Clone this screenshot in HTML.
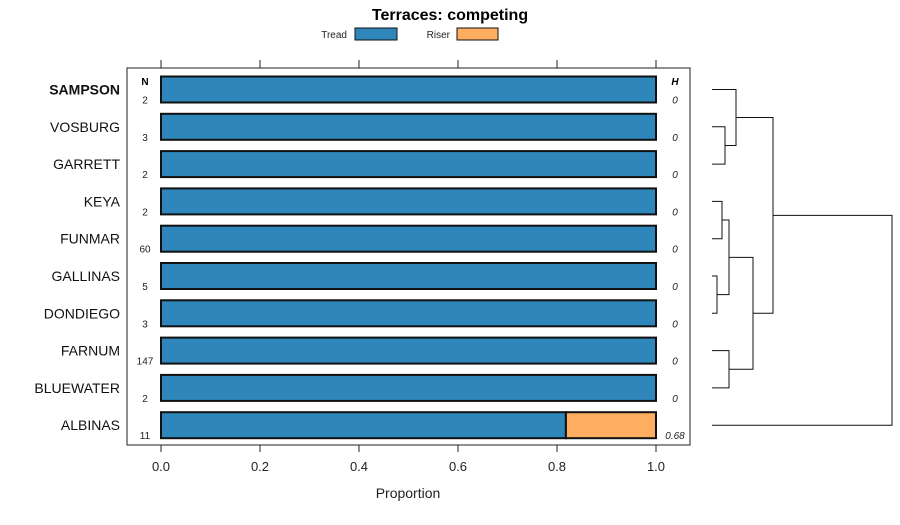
<!DOCTYPE html>
<html><head><meta charset="utf-8"><style>
body{margin:0;background:#fff;}
svg{font-family:"Liberation Sans",sans-serif;}
</style></head><body>
<svg id="c" width="900" height="520" xmlns="http://www.w3.org/2000/svg">
<text x="450" y="20" text-anchor="middle" font-size="16" font-weight="bold">Terraces: competing</text>
<g>
<text x="347" y="38" text-anchor="end" font-size="10" fill="#222">Tread</text>
<rect x="355" y="28" width="42" height="12" fill="#2e86bb" stroke="#111"/>
<text x="450" y="38" text-anchor="end" font-size="10" fill="#222">Riser</text>
<rect x="457" y="28" width="41" height="12" fill="#ffad60" stroke="#111"/>
</g>
<rect x="127" y="68" width="563" height="377" fill="none" stroke="#222"/>
<text x="145" y="85" text-anchor="middle" font-size="10" font-weight="bold">N</text>
<text x="675" y="85" text-anchor="middle" font-size="10" font-weight="bold" font-style="italic">H</text>
<text x="408" y="498" text-anchor="middle" font-size="14" fill="#222">Proportion</text>
<g id="bars"></g><g id="axis"></g><g id="dendro"></g>
</svg>
<script>
const sites=["SAMPSON","VOSBURG","GARRETT","KEYA","FUNMAR","GALLINAS","DONDIEGO","FARNUM","BLUEWATER","ALBINAS"];
const tread=[1,1,1,1,1,1,1,1,1,0.818];
const counts=[2,3,2,2,60,5,3,147,2,11];
const entropy=["0","0","0","0","0","0","0","0","0","0.68"];
const ticks=[0,0.2,0.4,0.6,0.8,1.0];
const tickLabels=["0.0","0.2","0.4","0.6","0.8","1.0"];
// dendrogram merges: [childA, childB, height]; leaf indices 0..9, clusters 10+
const merges=[[1,2,13],[0,10,24],[3,4,10],[5,6,5],[12,13,17],[7,8,17],[14,15,41],[11,16,61],[17,9,180]];
const NS="http://www.w3.org/2000/svg";
const X=v=>161+v*495, Y=i=>89.5+i*37.3;
function mk(t,a,p){const e=document.createElementNS(NS,t);for(const k in a)e.setAttribute(k,a[k]);p.appendChild(e);return e;}
const bars=document.getElementById('bars');
sites.forEach((s,i)=>{
 const y=Y(i);
 const t=mk('text',{x:120,y:y+5,'text-anchor':'end','font-size':14,fill:'#111','font-weight':i==0?'bold':'normal'},bars);t.textContent=s;
 
 
 const n=mk('text',{x:145,y:y+14,'text-anchor':'middle','font-size':10,fill:'#222'},bars);n.textContent=counts[i];
 
 
 const h=mk('text',{x:675,y:y+14,'text-anchor':'middle','font-size':10,'font-style':'italic',fill:'#222'},bars);h.textContent=entropy[i];
 
 
 const r1=mk('rect',{x:X(0),y:y-13,width:X(tread[i])-X(0),height:26,fill:'#2e86bb',stroke:'#111','stroke-width':2},bars);
 
 
 if(tread[i]<1){const r2=mk('rect',{x:X(tread[i]),y:y-13,width:X(1)-X(tread[i]),height:26,fill:'#ffad60',stroke:'#111','stroke-width':2},bars);
 
 }
});
const ax=document.getElementById('axis');
ticks.forEach((v,i)=>{
 mk('line',{x1:X(v),x2:X(v),y1:445,y2:452,stroke:'#222'},ax);
 mk('line',{x1:X(v),x2:X(v),y1:60,y2:68,stroke:'#222'},ax);
 const t=mk('text',{x:X(v),y:471,'text-anchor':'middle','font-size':13,fill:'#222'},ax);t.textContent=tickLabels[i];
 
 
});
const dg=document.getElementById('dendro');
const nodes=sites.map((s,i)=>({x:712,y:Y(i)}));
merges.forEach(m=>{
 const a=nodes[m[0]],b=nodes[m[1]],hx=712+m[2];
 const p=mk('path',{d:`M${a.x},${a.y}H${hx}V${b.y}H${b.x}`,fill:'none',stroke:'#111','stroke-width':1},dg);
 
 
 nodes.push({x:hx,y:(a.y+b.y)/2});
});
</script>
</body></html>
